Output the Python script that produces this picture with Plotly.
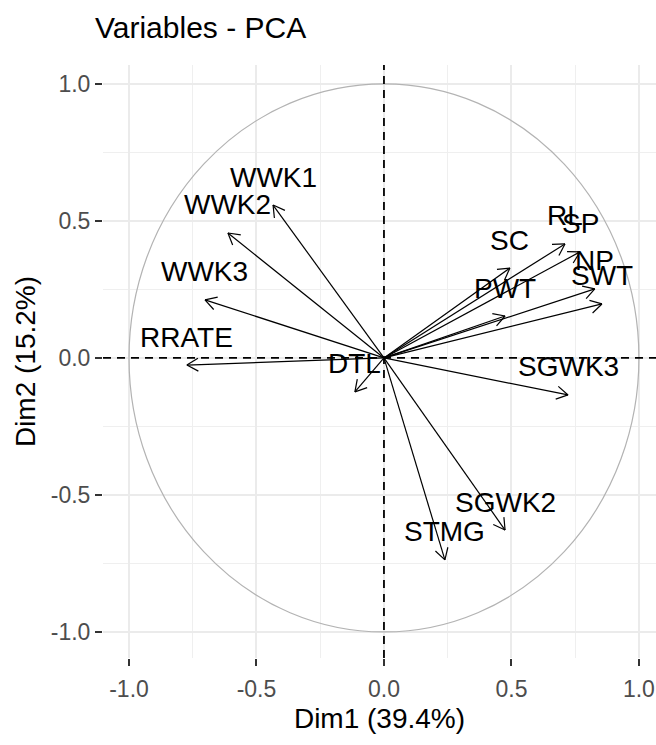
import math
import plotly.graph_objects as go

# Variable coordinates on the first two principal dimensions
variables = ["WWK1", "WWK2", "WWK3", "RRATE", "DTL", "SGWK3", "SGWK2",
             "STMG", "SC", "RL", "SP", "NP", "SWT", "PWT"]
dim1 = [-0.435, -0.612, -0.702, -0.773, -0.114, 0.722, 0.475,
        0.239, 0.494, 0.710, 0.769, 0.827, 0.855, 0.475]
dim2 = [0.558, 0.456, 0.212, -0.026, -0.124, -0.135, -0.628,
        -0.737, 0.328, 0.416, 0.387, 0.252, 0.197, 0.153]

tick_vals = [-1.0, -0.5, 0.0, 0.5, 1.0]
tick_text = ["-1.0", "-0.5", "0.0", "0.5", "1.0"]

x_title = "Dim1 (39.4%)"
y_title = "Dim2 (15.2%)"
chart_title = "Variables - PCA"

# Layout geometry
W, H = 656, 745
MARGIN = dict(l=103, r=0, t=65, b=87)
X_RANGE = [-1.102, 1.067]
Y_RANGE = [-1.095, 1.069]
CIRCLE_R = 1.0
FONT = "Liberation Sans, Arial, sans-serif"

plot_w = W - MARGIN["l"] - MARGIN["r"]
plot_h = H - MARGIN["t"] - MARGIN["b"]
px_x = plot_w / (X_RANGE[1] - X_RANGE[0])
px_y = plot_h / (Y_RANGE[1] - Y_RANGE[0])

# Arrow shafts plus open arrowheads (30 degree barbs), built in pixel space
HEAD_LEN = 13.0
HEAD_ANG = math.radians(30)
xs, ys = [], []
for x, y in zip(dim1, dim2):
    xs += [0, x, None]
    ys += [0, y, None]
    dx, dy = x * px_x, y * px_y
    n = math.hypot(dx, dy)
    ux, uy = dx / n, dy / n
    for s in (1, -1):
        a = s * HEAD_ANG
        bx = ux * math.cos(a) - uy * math.sin(a)
        by = ux * math.sin(a) + uy * math.cos(a)
        xs += [x - HEAD_LEN * bx / px_x, x, None]
        ys += [y - HEAD_LEN * by / px_y, y, None]

fig = go.Figure()
fig.add_trace(go.Scatter(
    x=xs, y=ys, mode="lines",
    line=dict(color="black", width=1.2),
    hoverinfo="skip", showlegend=False,
))

for name, x, y in zip(variables, dim1, dim2):
    fig.add_annotation(
        x=x, y=y, text=name, showarrow=False, yshift=28,
        xanchor="center", yanchor="middle",
        font=dict(family=FONT, size=28, color="black"),
    )

# Correlation circle and dashed reference axes
fig.add_shape(type="circle", xref="x", yref="y",
              x0=-CIRCLE_R, x1=CIRCLE_R, y0=-CIRCLE_R, y1=CIRCLE_R,
              line=dict(color="#B3B3B3", width=1.2), layer="above")
fig.add_shape(type="line", xref="x", yref="paper", x0=0, x1=0, y0=0, y1=1,
              line=dict(color="black", width=1.8, dash="8px,6px"), layer="above")
fig.add_shape(type="line", xref="paper", yref="y", x0=0, x1=1, y0=0, y1=0,
              line=dict(color="black", width=1.8, dash="8px,6px"), layer="above")

axis_common = dict(
    tickvals=tick_vals, ticktext=tick_text,
    showgrid=True, gridcolor="#EBEBEB", gridwidth=1.5,
    minor=dict(dtick=0.25, tick0=0.25, showgrid=True, gridcolor="#EFEFEF",
               gridwidth=1),
    zeroline=False, showline=False,
    ticks="outside", ticklen=7, tickwidth=2, tickcolor="#333333",
    tickfont=dict(family=FONT, size=23, color="#4D4D4D"),
    autorange=False,
)

fig.update_layout(
    width=W, height=H, margin=MARGIN,
    paper_bgcolor="white", plot_bgcolor="white",
    title=dict(text=chart_title, x=95 / W, xref="container", xanchor="left",
               y=1 - 27 / H, yref="container", yanchor="middle",
               font=dict(family=FONT, size=30, color="black")),
    xaxis=dict(range=X_RANGE,
               title=dict(text=x_title, standoff=7,
                          font=dict(family=FONT, size=28, color="black")),
               **axis_common),
    yaxis=dict(range=Y_RANGE,
               title=dict(text=y_title, standoff=6,
                          font=dict(family=FONT, size=28, color="black")),
               **axis_common),
    showlegend=False,
)
fig.update_xaxes(ticklabelstandoff=3)

fig.write_html("out.html")
